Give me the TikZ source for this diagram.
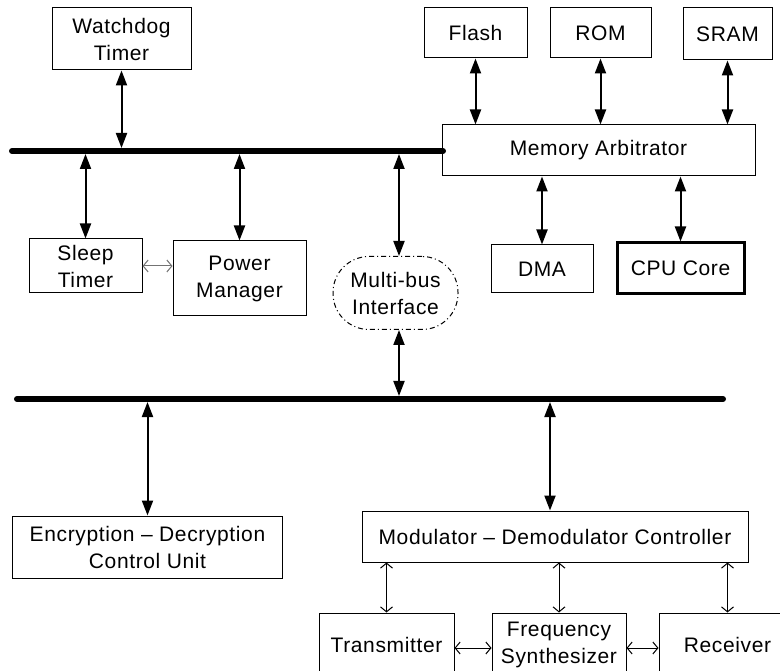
\documentclass[tikz,border=0pt]{standalone}
\usepackage{fontspec}
\setmainfont{Liberation Sans}[LetterSpace=3]
\usetikzlibrary{arrows.meta}

\begin{document}
\begin{tikzpicture}[x=1pt, y=-1pt,
  font=\fontsize{21}{27}\selectfont,
  blk/.style={draw, line width=1pt, align=center, inner sep=0pt},
  bus/.style={line width=6pt, line cap=round},
  link/.style={line width=2pt,
    {Triangle[length=15pt,width=11pt]}-{Triangle[length=15pt,width=11pt]}},
  thinlink/.style={line width=1pt,
    {Straight Barb[length=5pt,width=12pt]}-{Straight Barb[length=5pt,width=12pt]}},
  greylink/.style={thinlink, draw=black!55},
]
\useasboundingbox (0,0) rectangle (780,671);

% ---------- blocks ----------
\node[blk, minimum width=139pt, minimum height=62pt] (wd)    at (121.5,39)  {Watchdog\\Timer};
\node[blk, minimum width=103pt, minimum height=50pt] (flash) at (475.5,33)  {Flash};
\node[blk, minimum width=101pt, minimum height=50pt] (rom)   at (600.5,33)  {ROM};
\node[blk, minimum width=89pt,  minimum height=52pt] (sram)  at (727.5,34)  {SRAM};
\node[blk, minimum width=313pt, minimum height=51pt] (arb)   at (598.5,150.5) {Memory Arbitrator};
\node[blk, minimum width=113pt, minimum height=54pt] (sleep) at (85.5,266)  {Sleep\\Timer};
\node[blk, minimum width=133pt, minimum height=75pt] (pwr)   at (239.5,278.5) {Power\\Manager};
\node[blk, minimum width=125pt, minimum height=73pt, rounded corners=36pt,
      dash pattern=on 5pt off 3pt on 1pt off 3pt] (mbi) at (395.5,293) {Multi-bus\\Interface};
\node[blk, minimum width=102pt, minimum height=48pt] (dma)   at (542,269)   {DMA};
\node[blk, minimum width=127pt, minimum height=51pt, line width=3pt] (cpu) at (680.5,268.5) {CPU Core};
\node[blk, minimum width=270pt, minimum height=62pt] (enc)   at (147.5,547) {Encryption -- Decryption\\Control Unit};
\node[blk, minimum width=386pt, minimum height=51pt] (mod)   at (555,536.5) {Modulator -- Demodulator Controller};
\node[blk, minimum width=135pt, minimum height=64pt] (tx)    at (386.5,645) {Transmitter};
\node[blk, minimum width=134pt, minimum height=64pt] (fs)    at (559,645)   {Frequency\\Synthesizer};
\node[blk, minimum width=137pt, minimum height=64pt] (rx)    at (727.5,645) {Receiver};

% ---------- buses ----------
\coordinate (busA) at (12,151);
\coordinate (busB) at (443,151);
\coordinate (busC) at (17,399);
\coordinate (busD) at (723,399);
\draw[bus] (busA) -- (busB);
\draw[bus] (busC) -- (busD);
% edges of the bus bars, where the arrow tips stop
\coordinate (busAtop) at (0,148);
\coordinate (busAbot) at (0,154);
\coordinate (busCtop) at (0,396);
\coordinate (busCbot) at (0,402);
% x positions of off-centre links
\coordinate (xmbi) at (399,0);
\coordinate (xmod) at (550,0);

% ---------- links ----------
\draw[link] (wd.south) -- (wd.south |- busAtop);
\draw[link] (sleep.north) -- (sleep.north |- busAbot);
\draw[link] (pwr.north) -- (pwr.north |- busAbot);
\draw[link] (mbi.north -| xmbi) -- (xmbi |- busAbot);
\draw[link] (mbi.south -| xmbi) -- (xmbi |- busCtop);
\draw[link] (flash.south) -- (flash.south |- arb.north);
\draw[link] (rom.south) -- (rom.south |- arb.north);
\draw[link] (sram.south) -- (sram.south |- arb.north);
\draw[link] (dma.north) -- (dma.north |- arb.south);
\draw[link] (cpu.north) -- (cpu.north |- arb.south);
\draw[link] (enc.north) -- (enc.north |- busCbot);
\draw[link] (mod.north -| xmod) -- (xmod |- busCbot);

\draw[greylink] (sleep.east) -- (sleep.east -| pwr.west);
\draw[thinlink] (tx.north) -- (tx.north |- mod.south);
\draw[thinlink] (fs.north) -- (fs.north |- mod.south);
\draw[thinlink] (rx.north) -- (rx.north |- mod.south);
\draw[thinlink] ([yshift=-3pt]tx.east) -- ([yshift=-3pt]fs.west);
\draw[thinlink] ([yshift=-3pt]fs.east) -- ([yshift=-3pt]rx.west);
\end{tikzpicture}
\end{document}
